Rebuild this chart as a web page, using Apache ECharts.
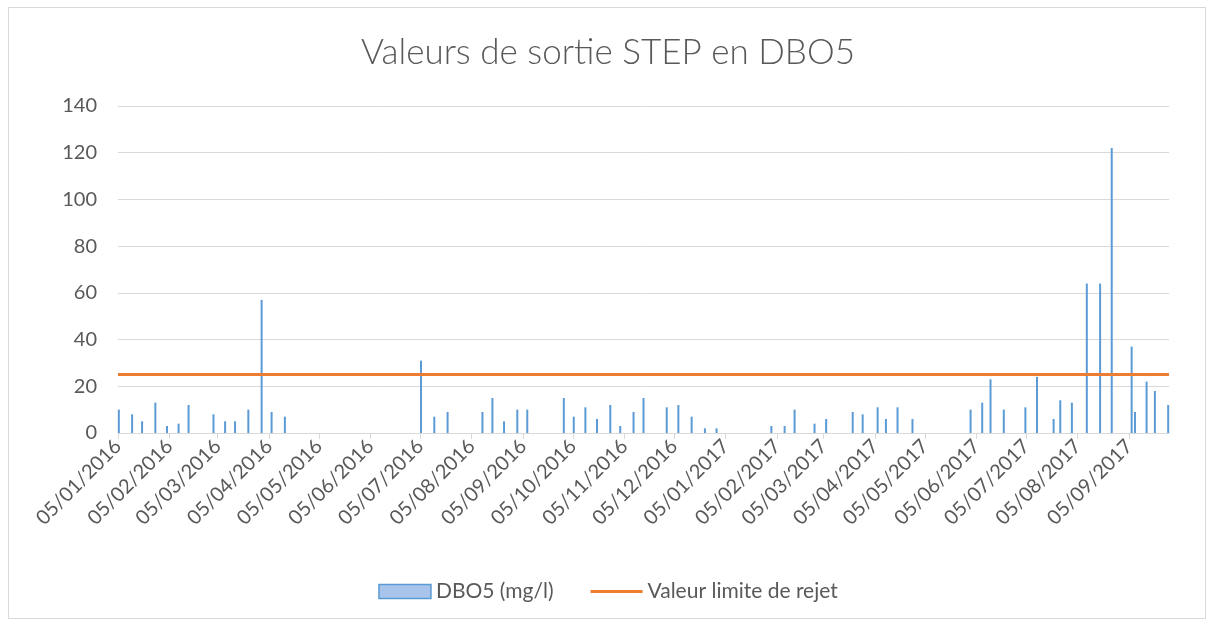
<!DOCTYPE html>
<html>
<head>
<meta charset="utf-8">
<title>Valeurs de sortie STEP en DBO5</title>
<script src="https://cdn.jsdelivr.net/npm/echarts@6/dist/echarts.min.js"></script>
<style>
  html, body { margin: 0; padding: 0; background: #fff; }
  #frame {
    position: absolute; left: 8px; top: 7px; width: 1198px; height: 612px;
    border: 1px solid #d9d9d9; box-sizing: border-box;
  }
  #main { position: absolute; left: 0; top: 0; width: 1216px; height: 626px; }
</style>
</head>
<body>
<div id="frame"></div>
<div id="main"></div>
<script>
// dates des prélèvements et valeurs DBO5 (mg/l)
var sampleDates = [
  "2016-01-05", "2016-01-13", "2016-01-19", "2016-01-27", "2016-02-03", "2016-02-10", "2016-02-16",
  "2016-03-02", "2016-03-09", "2016-03-15", "2016-03-23", "2016-03-31", "2016-04-06", "2016-04-14",
  "2016-07-05", "2016-07-13", "2016-07-21", "2016-08-11", "2016-08-17", "2016-08-24", "2016-09-01",
  "2016-09-07", "2016-09-29", "2016-10-05", "2016-10-12", "2016-10-19", "2016-10-27", "2016-11-02",
  "2016-11-10", "2016-11-16", "2016-11-30", "2016-12-07", "2016-12-15", "2016-12-23", "2016-12-30",
  "2017-02-01", "2017-02-09", "2017-02-15", "2017-02-27", "2017-03-06", "2017-03-22", "2017-03-28",
  "2017-04-06", "2017-04-11", "2017-04-18", "2017-04-27", "2017-06-01", "2017-06-08", "2017-06-13",
  "2017-06-21", "2017-07-04", "2017-07-11", "2017-07-21", "2017-07-25", "2017-08-01", "2017-08-10",
  "2017-08-18", "2017-08-25", "2017-09-06", "2017-09-08", "2017-09-15", "2017-09-20", "2017-09-28"
];
var dbo5Values = [
  10, 8, 5, 13, 3, 4, 12,
  8, 5, 5, 10, 57, 9, 7,
  31, 7, 9, 9, 15, 5, 10,
  10, 15, 7, 11, 6, 12, 3,
  9, 15, 11, 12, 7, 2, 2,
  3, 3, 10, 4, 6, 9, 8,
  11, 6, 11, 6, 10, 13, 23,
  10, 11, 24, 6, 14, 13, 64,
  64, 122, 37, 9, 22, 18, 12
];

// valeur limite (ligne horizontale)
var limitDates = ["2016-01-05", "2017-09-29"];
var limitValues = [25, 25];

// graduations de l'axe des dates (le 5 de chaque mois)
var tickDates = [
  "2016-01-05", "2016-02-05", "2016-03-05", "2016-04-05", "2016-05-05", "2016-06-05",
  "2016-07-05", "2016-08-05", "2016-09-05", "2016-10-05", "2016-11-05", "2016-12-05",
  "2017-01-05", "2017-02-05", "2017-03-05", "2017-04-05", "2017-05-05", "2017-06-05",
  "2017-07-05", "2017-08-05", "2017-09-05"
];
var yTicks = [0, 20, 40, 60, 80, 100, 120, 140];

var HALF_DAY = 12 * 3600 * 1000; // les barres sont centrées dans leur journée
var parse = function (s) { return echarts.number.parseDate(s).getTime(); };
var pad = function (n) { return n < 10 ? "0" + n : "" + n; };
var fmt = function (ts) {
  var d = new Date(ts);
  return pad(d.getDate()) + "/" + pad(d.getMonth() + 1) + "/" + d.getFullYear();
};

var barData = sampleDates.map(function (d, i) { return [parse(d) + HALF_DAY, dbo5Values[i]]; });
var limitData = limitDates.map(function (d, i) { return [parse(d), limitValues[i]]; });
var tickValues = tickDates.map(parse);

var textColor = "#595959";
var gridColor = "#d9d9d9";
var font = "Lato, 'Open Sans', sans-serif";

var chart = echarts.init(document.getElementById("main"));
chart.setOption({
  backgroundColor: "transparent",
  animation: false,
  title: {
    text: "Valeurs de sortie STEP en DBO5",
    left: "center",
    top: 30,
    textStyle: { color: textColor, fontSize: 35, fontWeight: 300, fontFamily: font }
  },
  legend: {
    left: "center",
    top: 576,
    itemWidth: 52,
    itemHeight: 14,
    itemGap: 37,
    textStyle: { color: textColor, fontSize: 21, fontFamily: font },
    data: [
      { name: "DBO5 (mg/l)", icon: "rect",
        itemStyle: { color: "#a9c4ea", borderColor: "#5b9bd5", borderWidth: 1.5 } },
      { name: "Valeur limite de rejet", icon: "path://M0,0H52V3H0Z",
        itemStyle: { color: "#ed7d31", borderWidth: 0 } }
    ]
  },
  grid: { left: 118, right: 47, top: 106, bottom: 193, outerBoundsMode: "none" },
  xAxis: {
    type: "value",
    min: limitData[0][0],
    max: limitData[1][0],
    axisLine: { lineStyle: { color: gridColor, width: 1 } },
    axisTick: { show: true, customValues: tickValues, length: 6, lineStyle: { color: gridColor } },
    axisLabel: {
      customValues: tickValues,
      rotate: 45,
      margin: 10,
      color: textColor,
      fontSize: 20,
      fontFamily: font,
      formatter: function (v) { return fmt(v); }
    },
    splitLine: { show: false }
  },
  yAxis: {
    type: "value",
    min: yTicks[0],
    max: yTicks[yTicks.length - 1],
    interval: 20,
    axisLine: { show: false },
    axisTick: { show: false },
    axisLabel: { color: textColor, fontSize: 20, fontFamily: font, margin: 21 },
    splitLine: { lineStyle: { color: gridColor, width: 1 } }
  },
  series: [
    {
      name: "DBO5 (mg/l)",
      type: "bar",
      barWidth: 2,
      itemStyle: { color: "#5b9bd5" },
      data: barData
    },
    {
      name: "Valeur limite de rejet",
      type: "line",
      symbol: "none",
      lineStyle: { color: "#ed7d31", width: 3 },
      itemStyle: { color: "#ed7d31" },
      data: limitData
    }
  ]
});
</script>
</body>
</html>
